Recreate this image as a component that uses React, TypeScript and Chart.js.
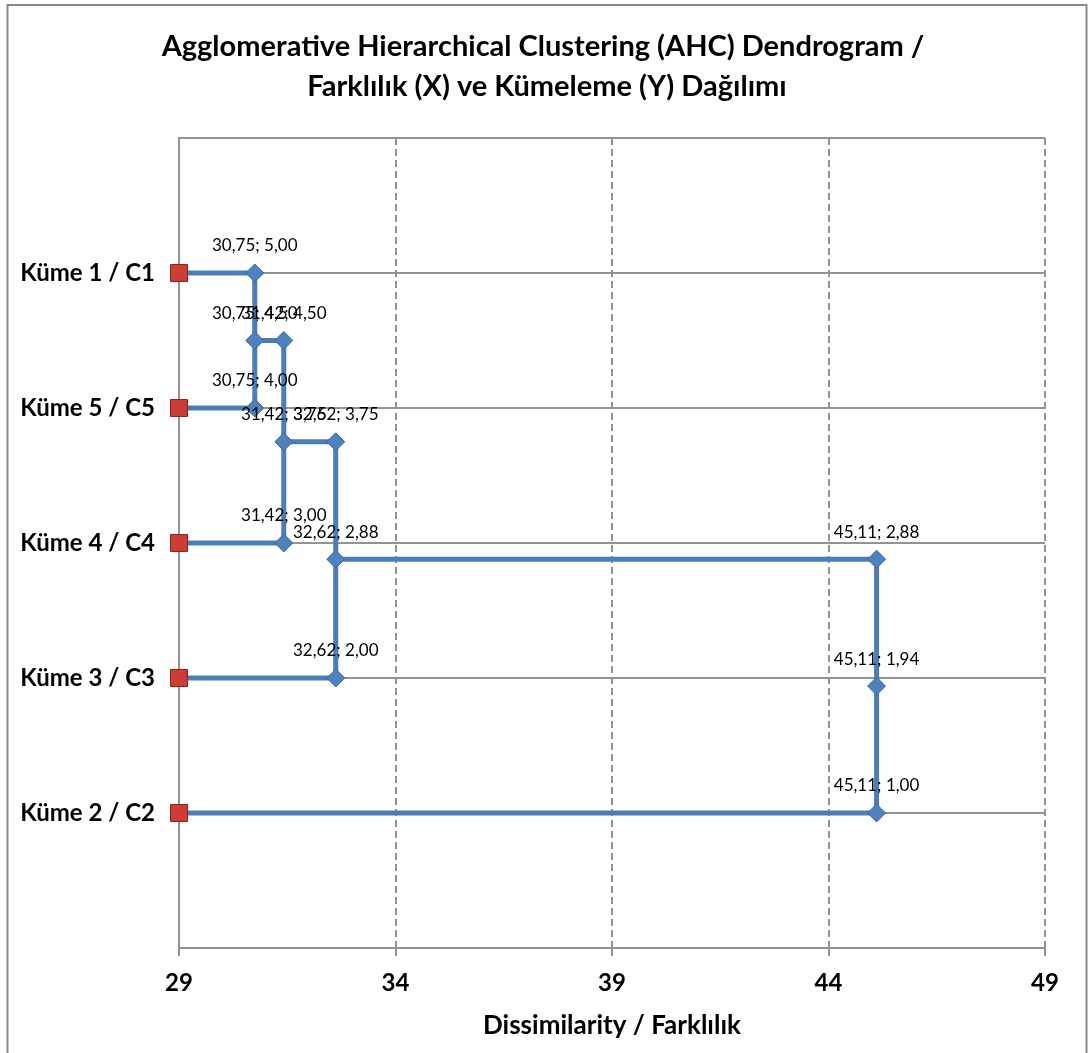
import React, { useEffect, useRef } from 'react';
import { Chart, registerables } from 'chart.js';

Chart.register(...registerables);

const titleLines = [
  'Agglomerative Hierarchical Clustering (AHC) Dendrogram /',
  'Farklılık (X) ve Kümeleme (Y) Dağılımı',
];
const xAxisTitle = 'Dissimilarity / Farklılık';
const xTickValues = [29, 34, 39, 44, 49];
const clusterLevels = [1, 2, 3, 4, 5];
const clusterNames = ['Küme 2 / C2', 'Küme 3 / C3', 'Küme 4 / C4', 'Küme 5 / C5', 'Küme 1 / C1'];

// leaves (red squares) on the y axis
const leafX = [29, 29, 29, 29, 29];
const leafY = [5, 4, 3, 2, 1];

// dendrogram links (blue)
const link1X = [29, 30.75, 30.75, 30.75, 29];
const link1Y = [5, 5, 4.5, 4, 4];
const link2X = [30.75, 31.42, 31.42, 31.42, 29];
const link2Y = [4.5, 4.5, 3.75, 3, 3];
const link3X = [31.42, 32.62, 32.62, 32.62, 29];
const link3Y = [3.75, 3.75, 2.88, 2, 2];
const link4X = [32.62, 45.11, 45.11, 45.11, 29];
const link4Y = [2.88, 2.88, 1.94, 1, 1];

const FONT = 'Lato';
const GRID = '#939393';

const toPts = (xs: number[], ys: number[]) => xs.map((x, i) => ({ x, y: ys[i] }));
const fmt = (v: number) => v.toFixed(2).replace('.', ',');

const framePlugin = {
  id: 'frame',
  beforeDraw(chart: any) {
    const { ctx, width, height } = chart;
    ctx.save();
    ctx.fillStyle = '#ffffff';
    ctx.fillRect(0, 0, width, height);
    ctx.strokeStyle = '#8a8a8a';
    ctx.lineWidth = 2;
    ctx.beginPath();
    ctx.moveTo(7.5, height + 5);
    ctx.lineTo(7.5, 5);
    ctx.lineTo(1086.5, 5);
    ctx.lineTo(1086.5, height + 5);
    ctx.stroke();
    ctx.restore();
  },
  afterDraw(chart: any) {
    const { ctx } = chart;
    ctx.save();
    ctx.fillStyle = '#000000';
    ctx.font = `bold 29px ${FONT}`;
    ctx.textAlign = 'center';
    ctx.textBaseline = 'alphabetic';
    ctx.fillText(titleLines[0], 543, 56);
    ctx.fillText(titleLines[1], 547, 96);
    ctx.restore();
  },
};

const labelPlugin = {
  id: 'pointLabels',
  afterDatasetsDraw(chart: any) {
    const { ctx } = chart;
    const seen = new Set<string>();
    ctx.save();
    ctx.fillStyle = '#000000';
    ctx.font = `17px ${FONT}`;
    ctx.textAlign = 'center';
    ctx.textBaseline = 'middle';
    chart.data.datasets.forEach((ds: any, di: number) => {
      if (!ds.isLink) return;
      const meta = chart.getDatasetMeta(di);
      ds.data.forEach((p: any, i: number) => {
        if (p.x === 29) return;
        const key = `${p.x}|${p.y}`;
        if (seen.has(key)) return;
        seen.add(key);
        const el = meta.data[i];
        ctx.fillText(`${fmt(p.x)}; ${fmt(p.y)}`, el.x, el.y - 27);
      });
    });
    ctx.restore();
  },
};

export default function App() {
  const ref = useRef<HTMLCanvasElement | null>(null);

  useEffect(() => {
    if (!ref.current) return;
    const linkStyle = (xs: number[], ys: number[]) => ({
      data: toPts(xs, ys),
      isLink: true,
      showLine: true,
      clip: false,
      borderColor: '#4A7EBB',
      borderWidth: 5,
      backgroundColor: '#4F81BD',
      pointBorderColor: '#3B6AA3',
      pointBorderWidth: 1,
      pointStyle: 'rectRot',
      pointRadius: (c: any) => {
        const p = c.raw;
        if (!p || p.x === 29 || (c.dataIndex === 0 && c.datasetIndex > 1)) return 0;
        return 9;
      },
      tension: 0,
    });
    const chart = new Chart(ref.current, {
      type: 'scatter',
      data: {
        datasets: [
          {
            data: toPts(leafX, leafY),
            showLine: false,
            clip: false,
            pointStyle: 'rect',
            pointRadius: 12,
            backgroundColor: '#CD3D36',
            borderColor: '#8E221D',
            borderWidth: 1,
          } as any,
          linkStyle(link1X, link1Y),
          linkStyle(link2X, link2Y),
          linkStyle(link3X, link3Y),
          linkStyle(link4X, link4Y),
        ],
      },
      options: {
        responsive: false,
        animation: false,
        devicePixelRatio: 1,
        events: [],
        layout: { padding: { left: 0, top: 138, right: 44, bottom: 0 } },
        plugins: {
          legend: { display: false },
          tooltip: { enabled: false },
          title: { display: false },
        },
        scales: {
          x: {
            type: 'linear',
            min: xTickValues[0],
            max: xTickValues[xTickValues.length - 1],
            afterFit: (s: any) => { s.height = 105; },
            afterBuildTicks: (s: any) => { s.ticks = xTickValues.map((v) => ({ value: v })); },
            grid: {
              color: (c: any) => (c.tick && c.tick.value === xTickValues[0] ? 'rgba(0,0,0,0)' : GRID),
              lineWidth: 2,
              tickLength: 8,
              tickColor: GRID,
              tickWidth: 2,
            },
            border: { display: true, color: GRID, width: 2, dash: [7, 4] },
            ticks: {
              color: '#000000',
              font: { family: FONT, size: 24, weight: 'bold' },
              padding: 13,
              maxRotation: 0,
              callback: (v: any) => String(v),
            },
            title: {
              display: true,
              text: xAxisTitle,
              color: '#000000',
              font: { family: FONT, size: 26, weight: 'bold' },
              padding: { top: 0, bottom: 12 },
            },
          },
          y: {
            type: 'linear',
            min: 0,
            max: 6,
            afterFit: (s: any) => { s.width = 179; },
            ticks: {
              stepSize: 1,
              color: '#000000',
              font: { family: FONT, size: 24, weight: 'bold' },
              padding: 24,
              callback: (v: any) => {
                const i = clusterLevels.indexOf(Number(v));
                return i >= 0 ? clusterNames[i] : '';
              },
            },
            grid: { color: GRID, lineWidth: 2, drawTicks: false },
            border: { display: true, color: GRID, width: 2 },
          },
        },
      } as any,
      plugins: [framePlugin, labelPlugin],
    });
    return () => chart.destroy();
  }, []);

  return (
    <div style={{ position: 'fixed', left: 0, top: 0, width: 1089, height: 1053, background: '#fff' }}>
      <canvas ref={ref} width={1089} height={1053} style={{ width: 1089, height: 1053, display: 'block' }} />
    </div>
  );
}
